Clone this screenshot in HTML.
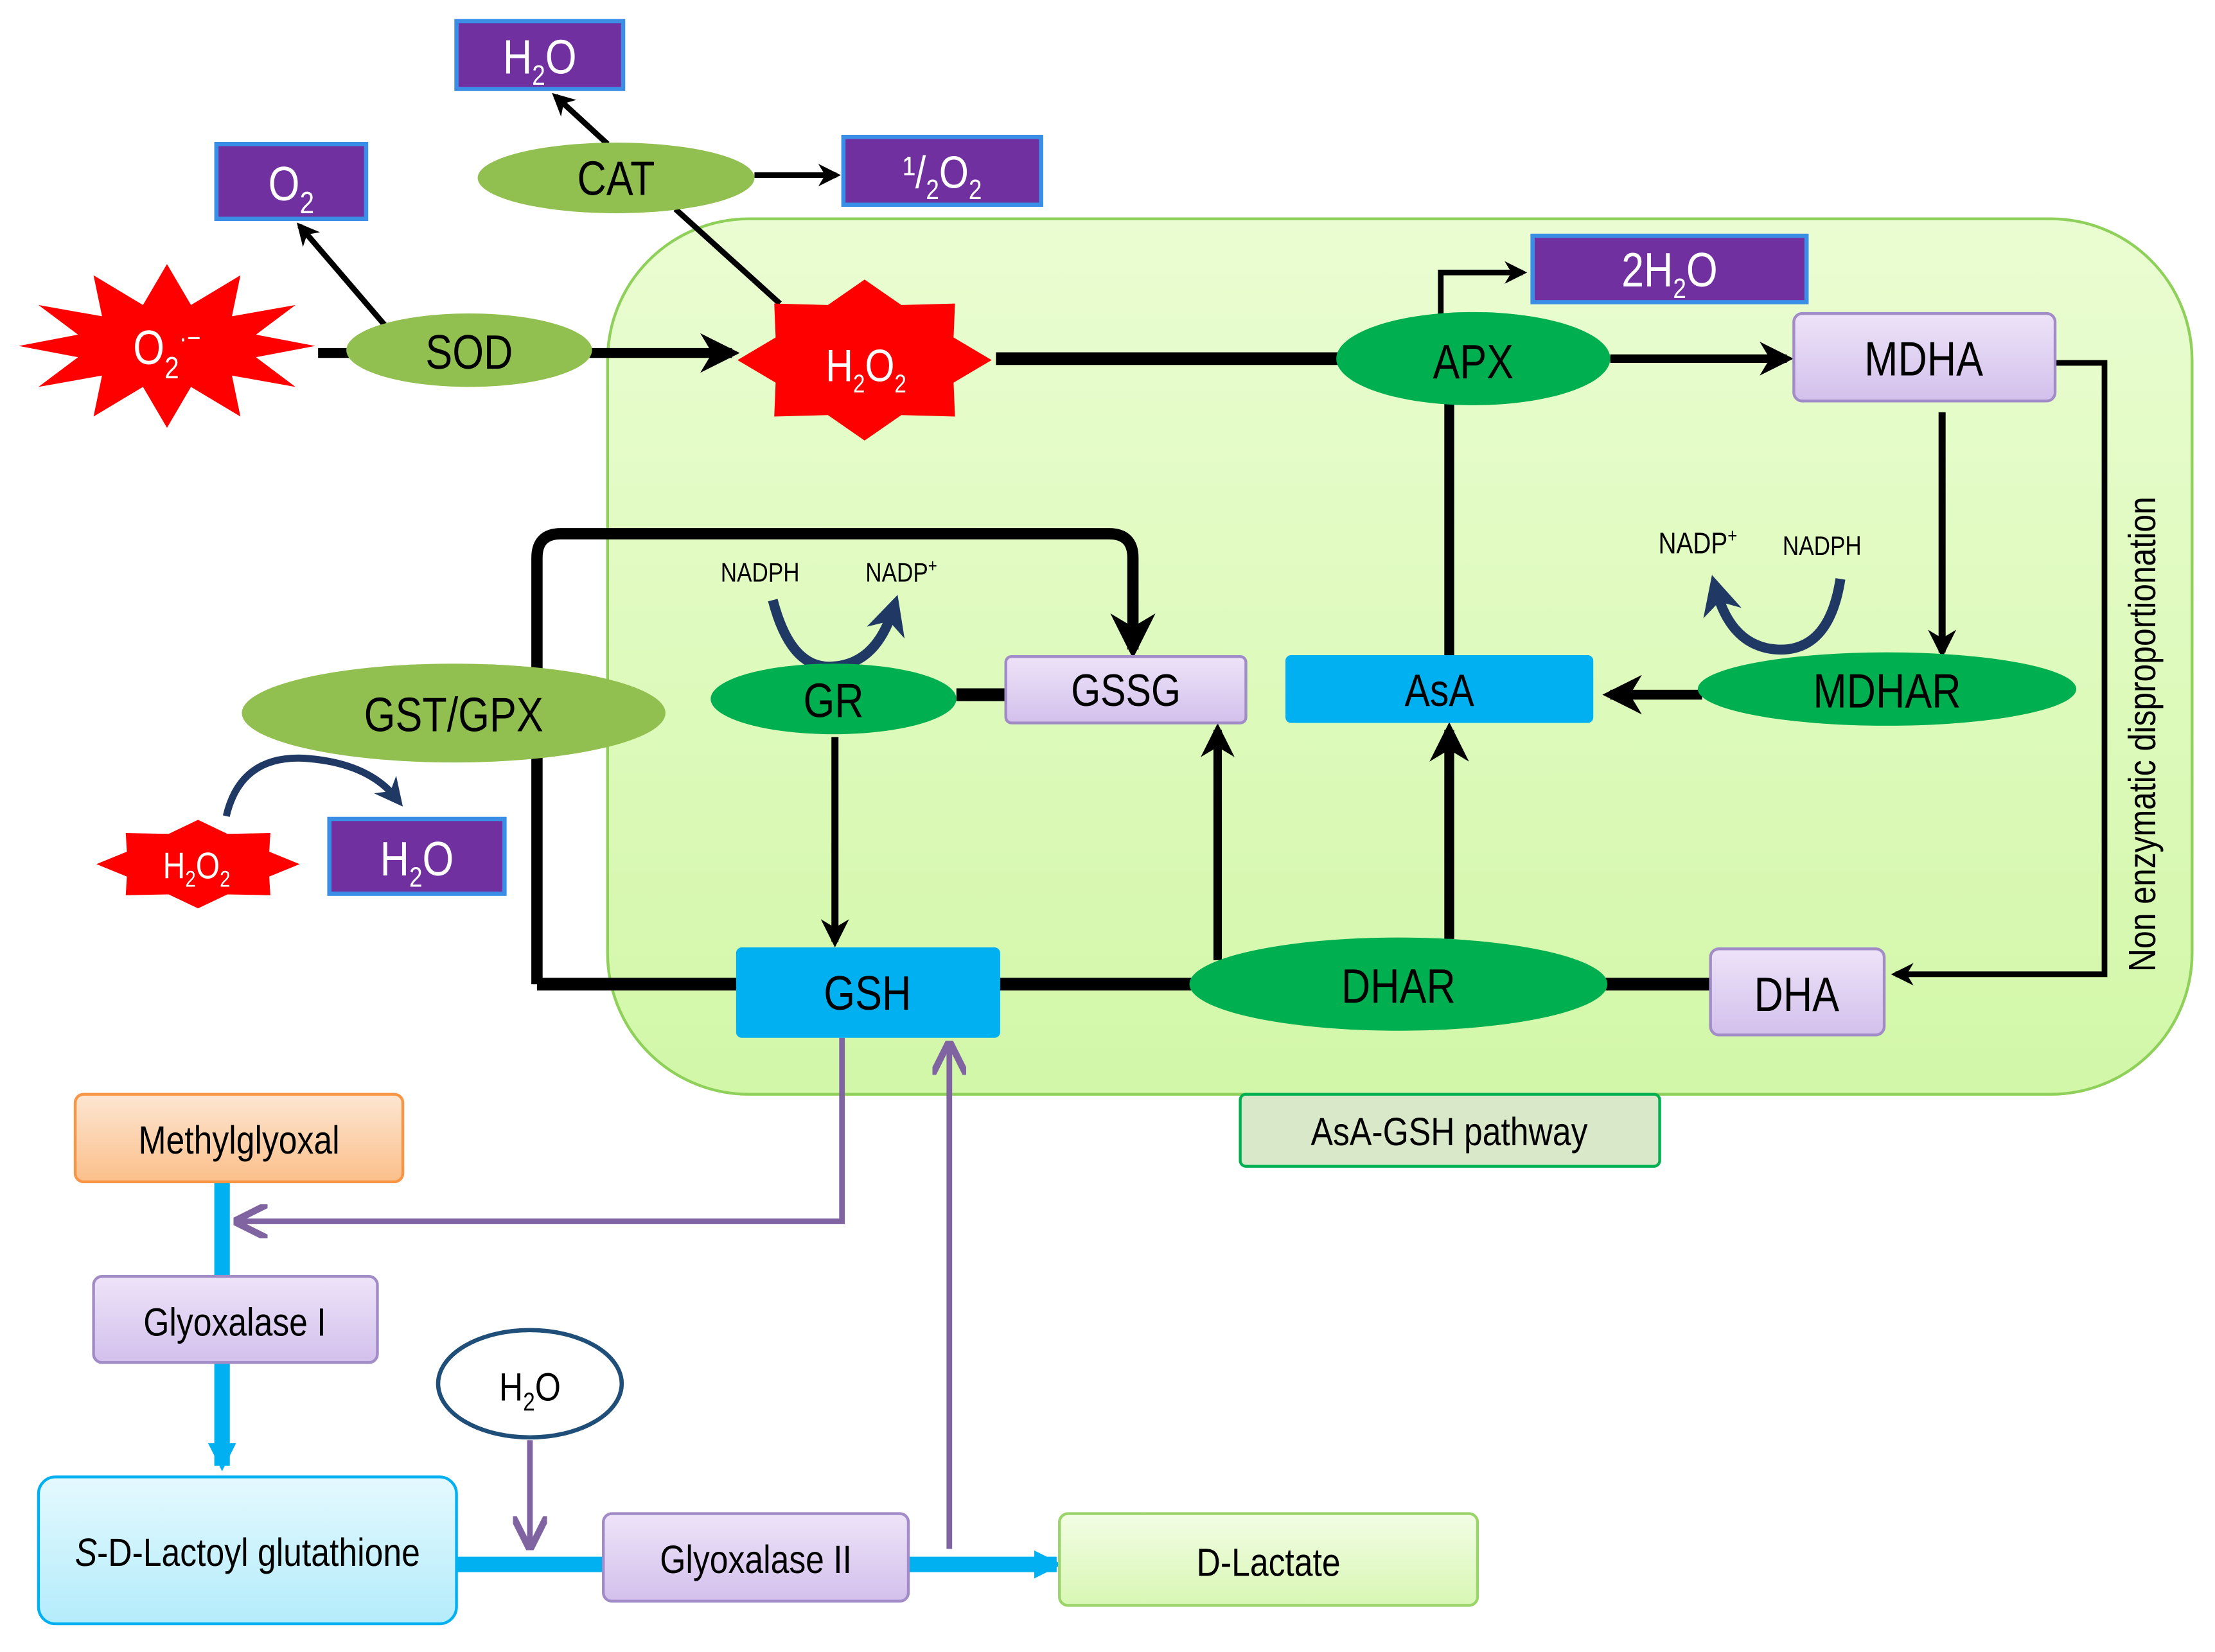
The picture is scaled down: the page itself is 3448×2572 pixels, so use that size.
<!DOCTYPE html>
<html><head><meta charset="utf-8">
<style>
html,body{margin:0;padding:0;background:#fff;}
svg{display:block;}
text{font-family:"Liberation Sans Narrow","Liberation Sans",sans-serif;transform-box:fill-box;transform-origin:center;transform:scaleX(0.84);}
text.rot{transform-box:view-box;transform-origin:0 0;transform:translate(1526px,520px) rotate(-90deg) scale(0.84,1);}
</style></head>
<body>
<svg width="3448" height="2572" viewBox="0 0 1568 1170" xmlns="http://www.w3.org/2000/svg">
<defs>
<linearGradient id="gbg" x1="0" y1="0" x2="0" y2="1">
<stop offset="0" stop-color="#eafdd2"/><stop offset="1" stop-color="#d2f7a8"/></linearGradient>
<linearGradient id="lav" x1="0" y1="0" x2="0" y2="1">
<stop offset="0" stop-color="#ede3f8"/><stop offset="1" stop-color="#d3c0ec"/></linearGradient>
<linearGradient id="org" x1="0" y1="0" x2="0" y2="1">
<stop offset="0" stop-color="#fde6d2"/><stop offset="1" stop-color="#fbbf8a"/></linearGradient>
<linearGradient id="cy" x1="0" y1="0" x2="0" y2="1">
<stop offset="0" stop-color="#e4f9fe"/><stop offset="1" stop-color="#b4ecfb"/></linearGradient>
<linearGradient id="lg" x1="0" y1="0" x2="0" y2="1">
<stop offset="0" stop-color="#f2fde4"/><stop offset="1" stop-color="#d8f7b4"/></linearGradient>
<marker id="ab" viewBox="0 0 10 10" refX="8" refY="5" markerWidth="4" markerHeight="4" orient="auto"><path d="M0,0 L10,5 L0,10 L3,5z" fill="#000"/></marker>
<marker id="ap" viewBox="0 0 10 10" refX="8" refY="5" markerWidth="6" markerHeight="6" orient="auto"><path d="M0,0 L10,5 L0,10" fill="none" stroke="#8064a2" stroke-width="2"/></marker>
<marker id="ac" viewBox="0 0 10 10" refX="8" refY="5" markerWidth="1.8" markerHeight="1.8" orient="auto"><path d="M0,0 L10,5 L0,10z" fill="#00b0f0"/></marker>
<marker id="an" viewBox="0 0 10 10" refX="6" refY="5" markerWidth="4" markerHeight="4" orient="auto"><path d="M0,0 L10,5 L0,10 L3,5z" fill="#1f3864"/></marker>
</defs>

<rect x="430" y="155" width="1122" height="620" rx="100" fill="url(#gbg)" stroke="#8fd05a" stroke-width="2"/>

<g stroke="#000" fill="none">
<line x1="225" y1="250" x2="518" y2="250" stroke-width="7" marker-end="url(#ab)"/>
<line x1="705" y1="254" x2="950" y2="254" stroke-width="9"/>
<line x1="1140" y1="254" x2="1265" y2="254" stroke-width="6" marker-end="url(#ab)"/>
<polyline points="1020,224 1020,193 1078,193" stroke-width="4" marker-end="url(#ab)"/>
<polyline points="1455,257 1490,257 1490,690 1342,690" stroke-width="4" marker-end="url(#ab)"/>
<line x1="1375" y1="292" x2="1375" y2="462" stroke-width="5" marker-end="url(#ab)"/>
<line x1="1205" y1="492" x2="1140" y2="492" stroke-width="7" marker-end="url(#ab)"/>
<line x1="1026" y1="464" x2="1026" y2="286" stroke-width="7"/>
<line x1="1026" y1="665" x2="1026" y2="517" stroke-width="7" marker-end="url(#ab)"/>
<line x1="862" y1="680" x2="862" y2="517" stroke-width="6" marker-end="url(#ab)"/>
<line x1="380" y1="697" x2="1211" y2="697" stroke-width="9"/>
<path d="M380,697 L380,395 Q380,378 397,378 L785,378 Q802,378 802,395 L802,460" stroke-width="8" marker-end="url(#ab)"/>
<line x1="677" y1="492" x2="712" y2="492" stroke-width="9"/>
<line x1="591" y1="522" x2="591" y2="667" stroke-width="5" marker-end="url(#ab)"/>
<line x1="272" y1="230" x2="212" y2="160" stroke-width="4" marker-end="url(#ab)"/>
<line x1="430" y1="102" x2="393" y2="68" stroke-width="4" marker-end="url(#ab)"/>
<line x1="534" y1="124" x2="592" y2="124" stroke-width="4" marker-end="url(#ab)"/>
<line x1="478" y1="148" x2="552" y2="215" stroke-width="4"/>
</g>

<g fill="none" stroke="#1f3864" stroke-width="7">
<path d="M547,425 Q560,475 590,472 Q620,470 632,432" marker-end="url(#an)"/>
<path d="M1303,410 Q1295,462 1258,460 Q1226,458 1215,418" marker-end="url(#an)"/>
<path d="M160,578 Q170,535 215,537 Q260,540 280,565" stroke-width="5" marker-end="url(#an)"/>
</g>

<g stroke="#8064a2" stroke-width="4" fill="none">
<polyline points="596,735 596,865 170,865" marker-end="url(#ap)"/>
<line x1="672" y1="1097" x2="672" y2="742" marker-end="url(#ap)"/>
<line x1="375" y1="1020" x2="375" y2="1093" marker-end="url(#ap)"/>
</g>

<g stroke="#00b0f0" stroke-width="11" fill="none">
<line x1="157" y1="837" x2="157" y2="904"/>
<line x1="157" y1="965" x2="157" y2="1038" marker-end="url(#ac)"/>
<line x1="323" y1="1108" x2="427" y2="1108"/>
<line x1="643" y1="1108" x2="748" y2="1108" marker-end="url(#ac)"/>
</g>

<polygon points="223,245 181,253 209,274 164,266 170,295 135,274 118,303 101,274 66,295 72,266 27,274 55,253 13,245 55,237 27,216 72,224 66,195 101,216 118,187 135,216 170,195 164,224 209,216 181,237" fill="#ff0000"/>
<polygon points="702,255 675,271 676,295 638,294 612,312 586,294 548,295 549,271 522,255 549,239 548,215 586,216 612,198 638,216 676,215 675,239" fill="#ff0000"/>
<g transform="translate(140,612) scale(0.8,0.55) translate(-612,-255)">
<polygon points="702,255 675,271 676,295 638,294 612,312 586,294 548,295 549,271 522,255 549,239 548,215 586,216 612,198 638,216 676,215 675,239" fill="#ff0000"/></g>

<ellipse cx="436" cy="126" rx="98" ry="25" fill="#92c050"/>
<ellipse cx="332" cy="248" rx="87" ry="26" fill="#92c050"/>
<ellipse cx="321" cy="505" rx="150" ry="35" fill="#92c050"/>
<ellipse cx="1043" cy="254" rx="97" ry="33" fill="#00b050"/>
<ellipse cx="1336" cy="488" rx="134" ry="26" fill="#00b050"/>
<ellipse cx="590" cy="495" rx="87" ry="25" fill="#00b050"/>
<ellipse cx="990" cy="697" rx="148" ry="33" fill="#00b050"/>
<ellipse cx="375" cy="980" rx="65" ry="38" fill="#fff" stroke="#1f4e79" stroke-width="3"/>

<g fill="#7030a0" stroke="#3a8ee6" stroke-width="3">
<rect x="323" y="15" width="118" height="48"/>
<rect x="153" y="102" width="106" height="53"/>
<rect x="597" y="97" width="140" height="48"/>
<rect x="1085" y="167" width="194" height="47"/>
<rect x="233" y="580" width="124" height="53"/>
</g>

<g fill="url(#lav)" stroke="#a28cc8" stroke-width="2">
<rect x="1270" y="222" width="185" height="62" rx="6"/>
<rect x="712" y="465" width="170" height="47" rx="4"/>
<rect x="1211" y="672" width="123" height="61" rx="6"/>
<rect x="66" y="904" width="201" height="61" rx="6"/>
<rect x="427" y="1072" width="216" height="62" rx="6"/>
</g>
<rect x="910" y="464" width="218" height="48" rx="4" fill="#00b0f0"/>
<rect x="521" y="671" width="187" height="64" rx="4" fill="#00b0f0"/>
<rect x="878" y="775" width="297" height="51" rx="4" fill="#d8e8c8" stroke="#00b050" stroke-width="2"/>
<rect x="53" y="775" width="232" height="62" rx="6" fill="url(#org)" stroke="#f79646" stroke-width="2"/>
<rect x="27" y="1046" width="296" height="104" rx="12" fill="url(#cy)" stroke="#00b0f0" stroke-width="2"/>
<rect x="750" y="1072" width="296" height="65" rx="6" fill="url(#lg)" stroke="#9bd46a" stroke-width="2"/>

<g fill="#fff" font-size="34" text-anchor="middle">
<text x="382" y="52">H<tspan font-size="20" dy="8">2</tspan><tspan dy="-8">O</tspan></text>
<text x="206" y="142">O<tspan font-size="22" dy="9">2</tspan></text>
<text x="667" y="133" font-size="32">¹/<tspan font-size="20" dy="8">2</tspan><tspan dy="-8">O</tspan><tspan font-size="20" dy="8">2</tspan></text>
<text x="1182" y="203">2H<tspan font-size="20" dy="8">2</tspan><tspan dy="-8">O</tspan></text>
<text x="295" y="620">H<tspan font-size="20" dy="8">2</tspan><tspan dy="-8">O</tspan></text>
<text x="118" y="258">O<tspan font-size="22" dy="10">2</tspan><tspan font-size="20" dy="-22">·−</tspan></text>
<text x="613" y="270" font-size="32">H<tspan font-size="18" dy="8">2</tspan><tspan dy="-8">O</tspan><tspan font-size="18" dy="8">2</tspan></text>
<text x="139" y="622" font-size="26">H<tspan font-size="16" dy="6">2</tspan><tspan dy="-6">O</tspan><tspan font-size="16" dy="6">2</tspan></text>
</g>
<g fill="#000" font-size="34" text-anchor="middle">
<text x="436" y="138">CAT</text>
<text x="332" y="261">SOD</text>
<text x="321" y="518">GST/GPX</text>
<text x="1043" y="268">APX</text>
<text x="1362" y="266">MDHA</text>
<text x="1336" y="501">MDHAR</text>
<text x="1019" y="500" font-size="32">AsA</text>
<text x="797" y="500" font-size="32">GSSG</text>
<text x="590" y="508">GR</text>
<text x="614" y="715">GSH</text>
<text x="990" y="710">DHAR</text>
<text x="1272" y="716">DHA</text>
<text x="1026" y="811" font-size="28">AsA-GSH pathway</text>
<text x="169" y="817" font-size="28">Methylglyoxal</text>
<text x="166" y="946" font-size="28">Glyoxalase I</text>
<text x="535" y="1114" font-size="28">Glyoxalase II</text>
<text x="898" y="1116" font-size="28">D-Lactate</text>
<text x="175" y="1109" font-size="28"><tspan font-style="italic">S</tspan>-D-Lactoyl glutathione</text>
<text x="375" y="992" font-size="28">H<tspan font-size="18" dy="7">2</tspan><tspan dy="-7">O</tspan></text>
<text x="538" y="412" font-size="19">NADPH</text>
<text x="638" y="412" font-size="19">NADP<tspan font-size="13" dy="-7">+</tspan></text>
<text x="1202" y="392" font-size="21">NADP<tspan font-size="14" dy="-8">+</tspan></text>
<text x="1290" y="393" font-size="19">NADPH</text>
<text class="rot" x="0" y="0" font-size="27">Non enzymatic disproportionation</text>
</g>
</svg>
</body></html>
